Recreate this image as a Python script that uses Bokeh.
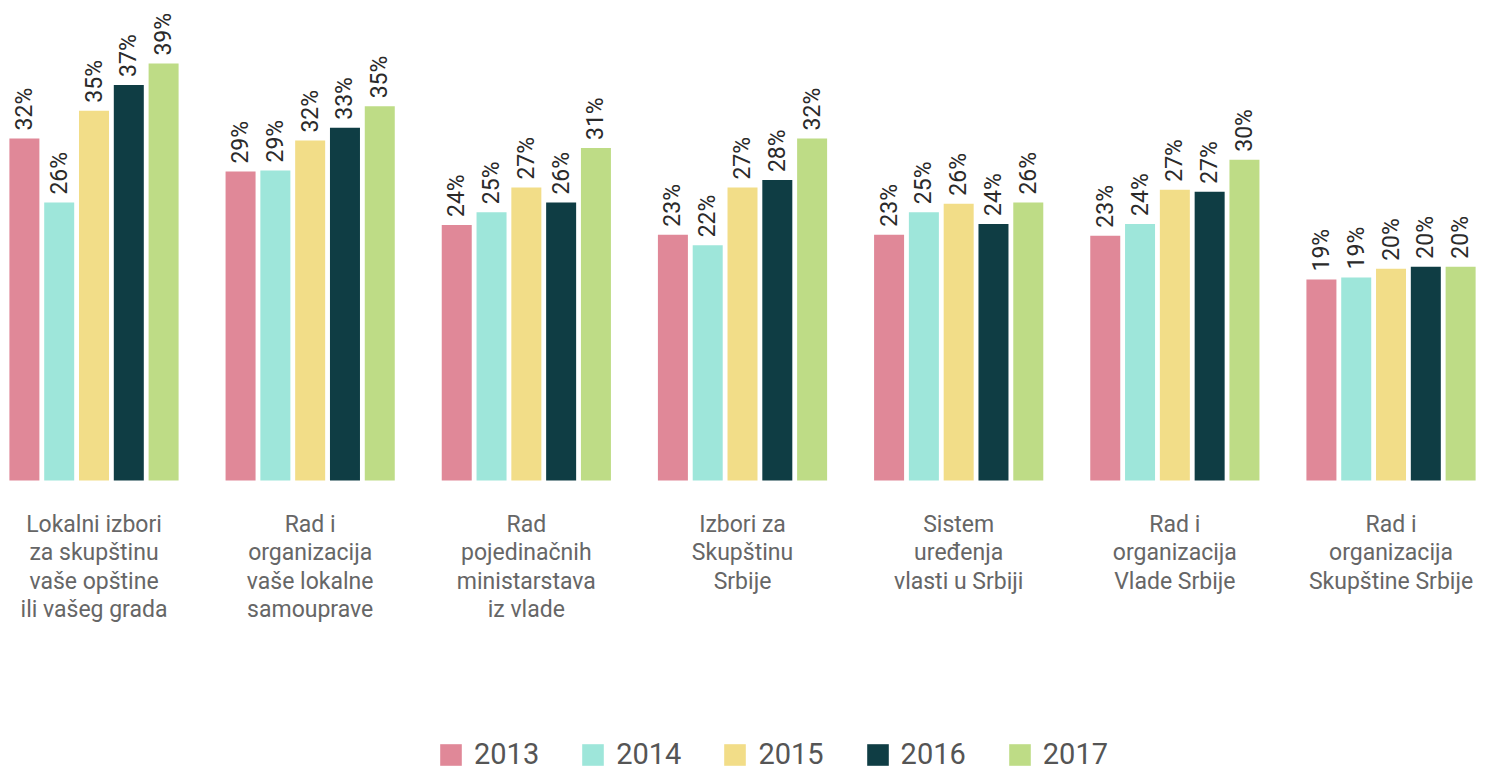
import numpy as np
from bokeh.plotting import figure
from bokeh.models import ColumnDataSource, Range1d, Legend, LegendItem
from bokeh.core.properties import value
from bokeh.embed import file_html
from bokeh.resources import INLINE

categories = [
    "Lokalni izbori\nza skupštinu\nvaše opštine\nili vašeg grada",
    "Rad i\norganizacija\nvaše lokalne\nsamouprave",
    "Rad\npojedinačnih\nministarstava\niz vlade",
    "Izbori za\nSkupštinu\nSrbije",
    "Sistem\nuređenja\nvlasti u Srbiji",
    "Rad i\norganizacija\nVlade Srbije",
    "Rad i\norganizacija\nSkupštine Srbije",
]
years = ["2013", "2014", "2015", "2016", "2017"]
v2013 = [32.0, 28.9, 23.9, 23.0, 23.0, 22.9, 18.8]
v2014 = [26.0, 29.0, 25.1, 22.0, 25.1, 24.0, 19.0]
v2015 = [34.6, 31.8, 27.4, 27.4, 25.9, 27.2, 19.8]
v2016 = [37.0, 33.0, 26.0, 28.1, 24.0, 27.0, 20.0]
v2017 = [39.0, 35.0, 31.1, 32.0, 26.0, 30.0, 20.0]
labels2013 = ["32%", "29%", "24%", "23%", "23%", "23%", "19%"]
labels2014 = ["26%", "29%", "25%", "22%", "25%", "24%", "19%"]
labels2015 = ["35%", "32%", "27%", "27%", "26%", "27%", "20%"]
labels2016 = ["37%", "33%", "26%", "28%", "24%", "27%", "20%"]
labels2017 = ["39%", "35%", "31%", "32%", "26%", "30%", "20%"]
colors = ["#e08898", "#9ee6da", "#f2dd88", "#0f3d44", "#bedc86"]

series = [v2013, v2014, v2015, v2016, v2017]
series_labels = [labels2013, labels2014, labels2015, labels2016, labels2017]

W, H = 1501, 771
px_per_unit_x = 216.17
px_per_pct = 10.69
base_px = 480.0           # baseline pixel within the frame (from top)
first_center_px = 93.5    # group-0 center pixel within the frame

x0 = -first_center_px / px_per_unit_x
x1 = x0 + W / px_per_unit_x
y1 = base_px / px_per_pct
y0 = -(H - base_px) / px_per_pct

p = figure(width=W, height=H, output_backend="svg", toolbar_location=None,
           x_range=Range1d(x0, x1), y_range=Range1d(y0, y1),
           min_border=0, outline_line_color=None)
p.axis.visible = False
p.grid.visible = False
p.background_fill_color = "white"
p.border_fill_color = "white"

bar_w = 30 / px_per_unit_x
step = 34.8 / px_per_unit_x
gx = np.arange(len(categories))

items = []
for i, (yr, vals, labs, col) in enumerate(zip(years, series, series_labels, colors)):
    xs = gx + (i - 2) * step
    src = ColumnDataSource(dict(x=xs, top=vals, lab=labs,
                                ly=[v + 8 / px_per_pct for v in vals]))
    r = p.vbar(x="x", top="top", bottom=0, width=bar_w, source=src,
               fill_color=col, line_color=None)
    p.text(x="x", y="ly", text="lab", source=src, angle=np.pi / 2,
           text_align="left", text_baseline="middle",
           text_font=value("Roboto"), text_font_size="23px", text_color="#2a2a2a")
    items.append(LegendItem(label=yr, renderers=[r]))

csrc = ColumnDataSource(dict(x=gx, y=[-(510 - 480) / px_per_pct] * len(gx), t=categories))
p.text(x="x", y="y", text="t", source=csrc, text_align="center", text_baseline="top",
       text_font=value("Roboto"), text_font_size="23px", text_color="#666666",
       text_line_height=1.06)

legend = Legend(items=items, orientation="horizontal", location=(437, 0),
                glyph_width=27, glyph_height=27, label_standoff=10, spacing=40,
                label_text_font="Roboto", label_text_font_size="29px",
                label_text_color="#555555", border_line_color=None,
                background_fill_alpha=0, padding=0, margin=0, label_height=27)
p.add_layout(legend)

open("out.html", "w").write(file_html(p, INLINE))
